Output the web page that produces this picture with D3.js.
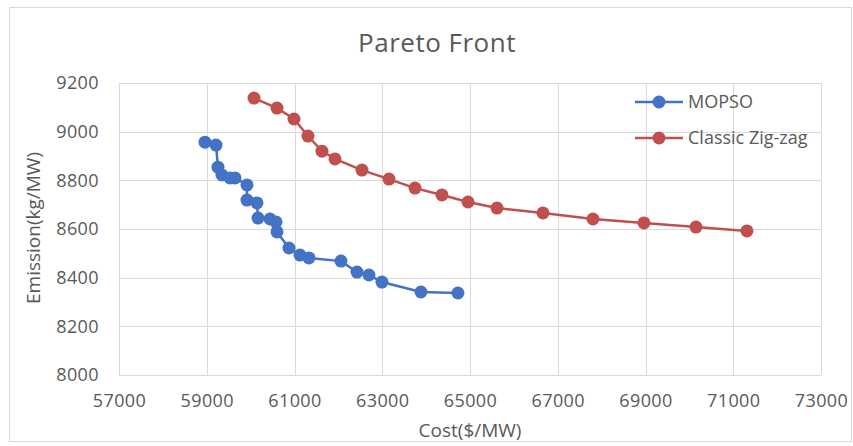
<!DOCTYPE html>
<html>
<head>
    <title>Pareto Front</title>
    <script src="https://cdnjs.cloudflare.com/ajax/libs/d3/7.8.5/d3.min.js"></script>
    <style>
        body {
            margin: 0;
            background-color: white;
            font-family: "Open Sans", sans-serif;
        }

        .grid line {
            stroke: #d9d9d9;
            stroke-width: 1px;
        }

        .tick text {
            fill: #595959;
            font-size: 18px;
            letter-spacing: 0.4px;
        }

        .series {
            fill: none;
            stroke-width: 2.5px;
        }
    </style>
</head>

<body>
    <div id="chart"></div>

    <script>
        // MOPSO front
        const mopsoCost = [58960, 59211, 59256, 59347, 59530, 59644, 59917, 59917, 60145, 60168, 60441,
            60578, 60601, 60874, 61125, 61330, 62059, 62424, 62697, 62993, 63882, 64725];
        const mopsoEmission = [8957, 8945, 8854, 8822, 8810, 8810, 8781, 8719, 8707, 8645, 8641,
            8629, 8588, 8522, 8493, 8481, 8468, 8423, 8411, 8382, 8341, 8337];

        // Classic zig-zag front
        const zigzagCost = [60077, 60601, 60988, 61307, 61626, 61923, 62538, 63153, 63746, 64361,
            64954, 65615, 66663, 67802, 68965, 70150, 71312];
        const zigzagEmission = [9138, 9097, 9052, 8982, 8920, 8888, 8842, 8805, 8768, 8740,
            8711, 8686, 8666, 8641, 8625, 8608, 8592];

        const xTicks = [57000, 59000, 61000, 63000, 65000, 67000, 69000, 71000, 73000];
        const yTicks = [8000, 8200, 8400, 8600, 8800, 9000, 9200];

        const seriesNames = ["MOPSO", "Classic Zig-zag"];
        const seriesColors = ["#4472c4", "#c0504d"];

        const width = 853, height = 446;
        const plotLeft = 119, plotRight = 821, plotTop = 83, plotBottom = 375;

        const svg = d3.select("#chart").append("svg")
            .attr("width", width)
            .attr("height", height);

        // outer frame
        svg.append("rect")
            .attr("x", 9.5).attr("y", 7.5)
            .attr("width", 842).attr("height", 434)
            .attr("fill", "white")
            .attr("stroke", "#d9d9d9");

        const x = d3.scaleLinear().domain([57000, 73000]).range([plotLeft, plotRight]);
        const y = d3.scaleLinear().domain([8000, 9200]).range([plotBottom, plotTop]);

        // gridlines
        svg.append("g").attr("class", "grid")
            .selectAll("line").data(yTicks).enter().append("line")
            .attr("x1", plotLeft).attr("x2", plotRight)
            .attr("y1", d => Math.round(y(d)) + 0.5).attr("y2", d => Math.round(y(d)) + 0.5);

        svg.append("g").attr("class", "grid")
            .selectAll("line").data(xTicks).enter().append("line")
            .attr("y1", plotTop).attr("y2", plotBottom)
            .attr("x1", d => Math.round(x(d)) + 0.5).attr("x2", d => Math.round(x(d)) + 0.5);

        // axes (labels only)
        const xAxis = svg.append("g")
            .attr("transform", `translate(0,${plotBottom})`)
            .call(d3.axisBottom(x).tickValues(xTicks).tickSize(0).tickPadding(19).tickFormat(d3.format("d")));
        xAxis.select(".domain").remove();

        const yAxis = svg.append("g")
            .attr("transform", `translate(${plotLeft},0)`)
            .call(d3.axisLeft(y).tickValues(yTicks).tickSize(0).tickPadding(20).tickFormat(d3.format("d")));
        yAxis.select(".domain").remove();
        svg.selectAll(".tick text").attr("font-family", "Open Sans, sans-serif");

        // series
        const data = [
            d3.zip(mopsoCost, mopsoEmission),
            d3.zip(zigzagCost, zigzagEmission)
        ];

        const line = d3.line().x(d => x(d[0])).y(d => y(d[1]));

        data.forEach((pts, i) => {
            svg.append("path")
                .datum(pts)
                .attr("class", "series")
                .attr("stroke", seriesColors[i])
                .attr("d", line);

            svg.append("g")
                .selectAll("circle").data(pts).enter().append("circle")
                .attr("cx", d => x(d[0]))
                .attr("cy", d => y(d[1]))
                .attr("r", 6.5)
                .attr("fill", seriesColors[i]);
        });

        // title
        svg.append("text")
            .attr("x", 437).attr("y", 52)
            .attr("text-anchor", "middle")
            .attr("fill", "#595959")
            .attr("font-size", "26px")
            .attr("letter-spacing", "0.5px")
            .text("Pareto Front");

        // axis titles
        svg.append("text")
            .attr("x", 470).attr("y", 437)
            .attr("text-anchor", "middle")
            .attr("fill", "#595959")
            .attr("font-size", "19px")
            .text("Cost($/MW)");

        svg.append("text")
            .attr("transform", "translate(40,228) rotate(-90)")
            .attr("text-anchor", "middle")
            .attr("fill", "#595959")
            .attr("font-size", "19px")
            .text("Emission(kg/MW)");

        // legend
        const legend = svg.append("g")
            .selectAll("g").data(seriesNames).enter().append("g")
            .attr("transform", (d, i) => `translate(635,${102 + i * 36})`);

        legend.append("line")
            .attr("x1", 0).attr("x2", 48)
            .attr("stroke", (d, i) => seriesColors[i])
            .attr("stroke-width", 2.5);

        legend.append("circle")
            .attr("cx", 24).attr("r", 6.5)
            .attr("fill", (d, i) => seriesColors[i]);

        legend.append("text")
            .attr("x", 53).attr("dy", "0.35em")
            .attr("fill", "#595959")
            .attr("font-size", "18px")
            .text(d => d);
    </script>
</body>
</html>
